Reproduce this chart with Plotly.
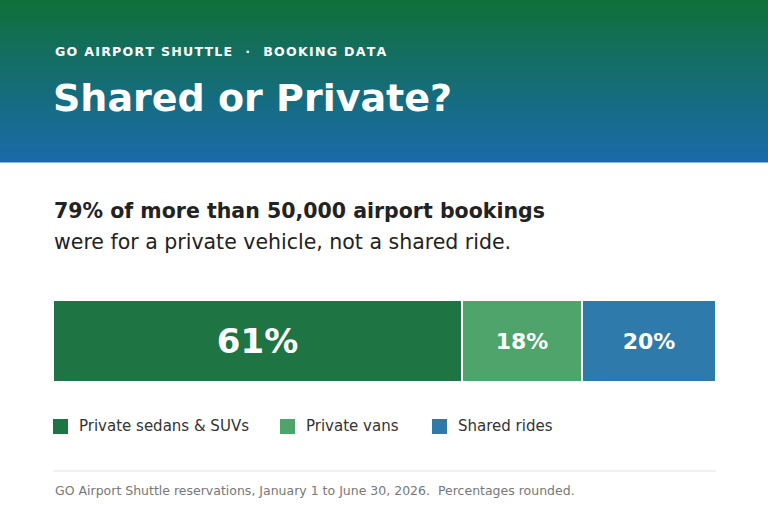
import plotly.graph_objects as go

categories = ["Private sedans & SUVs", "Private vans", "Shared rides"]
shares = [61, 18, 20]
labels = ["61%", "18%", "20%"]
colors = ["#1e7442", "#4fa46c", "#2e7bab"]
label_sizes = [34, 22, 22]
legend_x_px = [53, 280, 432]

W, H = 768, 512
fig = go.Figure()
for c, v, t, col, s in zip(categories, shares, labels, colors, label_sizes):
    fig.add_trace(go.Bar(
        x=[v], y=[0], orientation="h", name=c, text=[t], textposition="inside",
        insidetextanchor="middle", textangle=0,
        textfont=dict(family="DejaVu Sans", size=s, color="white", weight="bold"),
        marker=dict(color=col, line=dict(color="white", width=2)),
        hoverinfo="skip", showlegend=False))

def px(x): return x / W
def py(y): return 1 - y / H

shapes = []
top = (16, 112, 60); bot = (26, 106, 170)
n = 54
for i in range(n):
    f = i / (n - 1)
    c = tuple(round(top[k] + (bot[k] - top[k]) * f) for k in range(3))
    shapes.append(dict(type="rect", xref="paper", yref="paper", x0=0, x1=1,
                       y0=py(162 * (i + 1) / n + 0.5), y1=py(162 * i / n),
                       fillcolor="rgb(%d,%d,%d)" % c, line=dict(width=0), layer="below"))
shapes.append(dict(type="line", xref="paper", yref="paper", x0=px(53), x1=px(716),
                   y0=py(471), y1=py(471), line=dict(color="#e3e3e3", width=1)))
ann = []
for i, (c, col) in enumerate(zip(categories, colors)):
    x0 = legend_x_px[i]
    shapes.append(dict(type="rect", xref="paper", yref="paper", x0=px(x0), x1=px(x0 + 15),
                       y0=py(434), y1=py(419), fillcolor=col, line=dict(width=0)))
    ann.append(dict(text=c, x=px(x0 + 24), y=py(426), xanchor="left", yanchor="middle",
                    font=dict(size=15, color="#333", family="DejaVu Sans")))

hs = "\u200a"
kicker = hs.join("GO AIRPORT SHUTTLE") + "   ·   " + hs.join("BOOKING DATA")
ann += [
    dict(text="<b>" + kicker + "</b>", x=px(53), y=py(51), xanchor="left", yanchor="middle",
         font=dict(size=12.6, color="white", family="DejaVu Sans")),
    dict(text="<b>Shared or Private?</b>", x=px(51), y=py(98), xanchor="left", yanchor="middle",
         font=dict(size=38, color="white", family="DejaVu Sans")),
    dict(text="<b>79% of more than 50,000 airport bookings</b>", x=px(52), y=py(211),
         xanchor="left", yanchor="middle", font=dict(size=20.5, color="#222", family="DejaVu Sans")),
    dict(text="were for a private vehicle, not a shared ride.", x=px(52), y=py(242),
         xanchor="left", yanchor="middle", font=dict(size=20.5, color="#222", family="DejaVu Sans")),
    dict(text="GO Airport Shuttle reservations, January 1 to June 30, 2026.  Percentages rounded.",
         x=px(53), y=py(490), xanchor="left", yanchor="middle",
         font=dict(size=12.5, color="#777", family="DejaVu Sans")),
]
for a in ann:
    a.update(xref="paper", yref="paper", showarrow=False)

fig.update_layout(
    width=W, height=H, margin=dict(l=0, r=0, t=0, b=0), barmode="stack", bargap=0,
    plot_bgcolor="white", paper_bgcolor="white", shapes=shapes, annotations=ann,
    xaxis=dict(domain=[px(53), px(716)], range=[0, sum(shares)], visible=False, fixedrange=True),
    yaxis=dict(domain=[py(382), py(300)], range=[-0.5, 0.5], visible=False, fixedrange=True),
)
fig.write_html("out.html", config={"displayModeBar": False})
with open("out.html", encoding="utf-8") as f:
    html = f.read()
html = html.replace("<body>", '<body style="margin:0;overflow:hidden">', 1)
with open("out.html", "w", encoding="utf-8") as f:
    f.write(html)
